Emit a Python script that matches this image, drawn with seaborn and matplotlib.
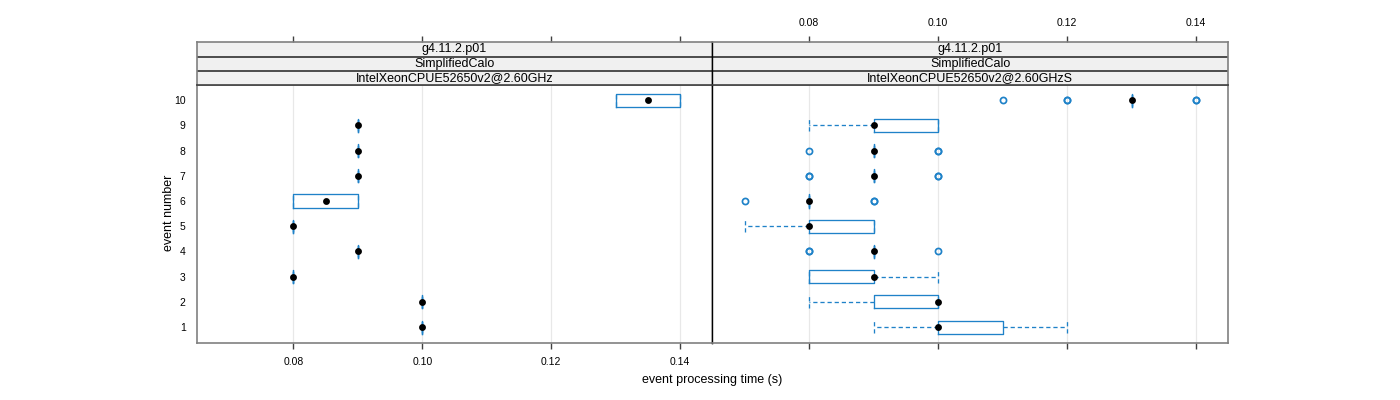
import numpy as np
import pandas as pd
import matplotlib
matplotlib.use("Agg")
import matplotlib.pyplot as plt
import seaborn as sns

# ---------------- data ----------------
events = ["1", "2", "3", "4", "5", "6", "7", "8", "9", "10"]
xticks = [0.08, 0.10, 0.12, 0.14]
xtick_labels = ["0.08", "0.10", "0.12", "0.14"]

strip_left = ["g4.11.2.p01", "SimplifiedCalo", "IntelXeonCPUE52650v2@2.60GHz"]
strip_right = ["g4.11.2.p01", "SimplifiedCalo", "IntelXeonCPUE52650v2@2.60GHzS"]

# left panel: event number and measured time (s) per run
left_event = (["1"] * 2 + ["2"] * 2 + ["3"] * 2 + ["4"] * 2 + ["5"] * 2 +
              ["6"] * 4 + ["7"] * 2 + ["8"] * 2 + ["9"] * 2 + ["10"] * 4)
left_time = [0.10, 0.10,
             0.10, 0.10,
             0.08, 0.08,
             0.09, 0.09,
             0.08, 0.08,
             0.08, 0.08, 0.09, 0.09,
             0.09, 0.09,
             0.09, 0.09,
             0.09, 0.09,
             0.13, 0.13, 0.14, 0.14]

# right panel
right_event = (["1"] * 7 + ["2"] * 7 + ["3"] * 7 + ["4"] * 9 + ["5"] * 7 +
               ["6"] * 9 + ["7"] * 10 + ["8"] * 9 + ["9"] * 7 + ["10"] * 13)
right_time = [0.09, 0.10, 0.10, 0.10, 0.11, 0.11, 0.12,
              0.08, 0.09, 0.09, 0.10, 0.10, 0.10, 0.10,
              0.08, 0.08, 0.08, 0.09, 0.09, 0.09, 0.10,
              0.08, 0.08, 0.09, 0.09, 0.09, 0.09, 0.09, 0.09, 0.10,
              0.07, 0.08, 0.08, 0.08, 0.09, 0.09, 0.09,
              0.07, 0.08, 0.08, 0.08, 0.08, 0.08, 0.08, 0.09, 0.09,
              0.08, 0.08, 0.09, 0.09, 0.09, 0.09, 0.09, 0.09, 0.10, 0.10,
              0.08, 0.09, 0.09, 0.09, 0.09, 0.09, 0.09, 0.10, 0.10,
              0.08, 0.09, 0.09, 0.09, 0.10, 0.10, 0.10,
              0.11, 0.12, 0.12, 0.13, 0.13, 0.13, 0.13, 0.13, 0.13, 0.13, 0.13, 0.14, 0.14]

# ---------------- style ----------------
BLUE = "#1f82c8"
FRAME = "#808080"
plt.rcParams["font.family"] = ["Liberation Sans", "DejaVu Sans"]

W, H = 1400, 400
fig = plt.figure(figsize=(14, 4), dpi=100)

def fx(px):
    return px / W

def fy(py):
    return 1 - py / H

x_edges = [196.7, 712.3, 1228.3]
top_plot, bot_plot = 85.0, 342.7
top_strip = 42.3

panels = [(pd.DataFrame({"event": left_event, "time": left_time}), strip_left),
          (pd.DataFrame({"event": right_event, "time": right_time}), strip_right)]

for i, (df, strips) in enumerate(panels):
    x0, x1 = x_edges[i], x_edges[i + 1]
    ax = fig.add_axes([fx(x0), fy(bot_plot), fx(x1 - x0), (bot_plot - top_plot) / H])
    sax = fig.add_axes([fx(x0), fy(top_plot), fx(x1 - x0), (top_plot - top_strip) / H])

    for xt in xticks:
        ax.axvline(xt, color="#e8e8e8", lw=0.9, zorder=0)

    dash = (0, (3.2, 2.2))
    sns.boxplot(data=df, x="time", y="event", order=events, orient="h",
                width=0.52, fill=False, color=BLUE, linecolor=BLUE, linewidth=0.95,
                whis=1.5, capwidths=0.48,
                whiskerprops=dict(linestyle=dash, linewidth=0.95),
                capprops=dict(linestyle=dash, linewidth=0.95),
                medianprops=dict(visible=False),
                flierprops=dict(marker="o", markerfacecolor="none",
                                markeredgecolor=BLUE, markersize=4.4,
                                markeredgewidth=1.25),
                ax=ax)
    sns.pointplot(data=df, x="time", y="event", order=events, orient="h",
                  estimator="median", errorbar=None, linestyle="none",
                  color="black", marker="o", markersize=2.9, ax=ax, zorder=5)

    ax.set_xlim(0.065, 0.145)
    ax.set_ylim(-0.62, 9.6)
    ax.set_xlabel("")
    ax.set_ylabel("")
    ax.set_xticks(xticks)
    ax.set_facecolor("white")
    for s in ax.spines.values():
        s.set_color(FRAME)
        s.set_linewidth(1.2)
    if i == 0:
        ax.spines["right"].set_color("black")
        ax.spines["right"].set_linewidth(1.0)
        ax.set_xticklabels(xtick_labels)
        ax.set_yticks(range(len(events)))
        ax.set_yticklabels(events)
        ax.tick_params(axis="y", length=0, pad=8, labelsize=7.5, colors="black")
    else:
        ax.spines["left"].set_color("black")
        ax.spines["left"].set_linewidth(1.0)
        ax.set_xticklabels([])
        ax.set_yticks([])
    ax.tick_params(axis="x", length=4.5, width=1.0, color="#404040", pad=6,
                   labelsize=7.5, direction="out")

    # strips
    sax.set_xlim(0.065, 0.145)
    sax.set_ylim(0, 3)
    sax.set_facecolor("#f0f0f0")
    for yline in (1, 2):
        sax.axhline(yline, color="#202020", lw=1.1)
    for k, txt in enumerate(strips):
        sax.text(0.105, 2.5 - k, txt, ha="center", va="center", fontsize=9)
    for side, s in sax.spines.items():
        s.set_color(FRAME)
        s.set_linewidth(1.2)
    sax.spines["bottom"].set_color("#404040")
    if i == 0:
        sax.spines["right"].set_color("black")
        sax.spines["right"].set_linewidth(1.0)
    else:
        sax.spines["left"].set_color("black")
        sax.spines["left"].set_linewidth(1.0)
    sax.set_yticks([])
    sax.xaxis.set_ticks_position("top")
    sax.set_xticks(xticks)
    if i == 1:
        sax.set_xticklabels(xtick_labels)
    else:
        sax.set_xticklabels([])
    sax.tick_params(axis="x", length=4.5, width=1.0, color="#404040", pad=6,
                    labelsize=7.5, direction="out", top=True, bottom=False,
                    labeltop=True, labelbottom=False)

fig.text(fx(712.5), fy(380), "event processing time (s)", ha="center", va="center",
         fontsize=9)
fig.text(fx(169), fy(213), "event number", ha="center", va="center",
         rotation=90, fontsize=9)

fig.savefig("out.png", dpi=100)
